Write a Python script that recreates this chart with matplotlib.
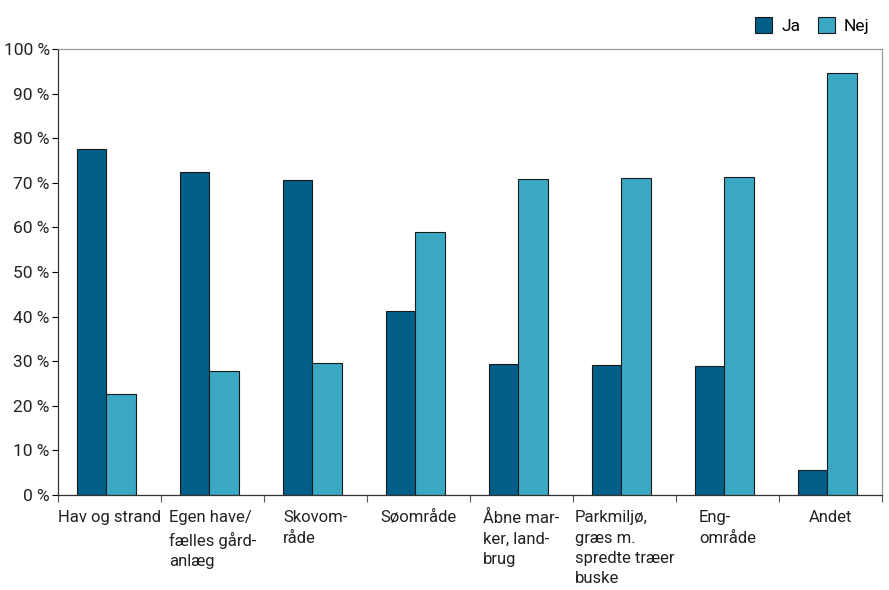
import matplotlib
matplotlib.use("Agg")
import matplotlib.pyplot as plt
import numpy as np
from matplotlib import font_manager

categories = ["Hav og strand", "Egen have/\nfælles gård-\nanlæg", "Skovom-\nråde", "Søområde",
              "Åbne mar-\nker, land-\nbrug", "Parkmiljø,\ngræs m.\nspredte træer\nbuske",
              "Eng-\nområde", "Andet"]
ja = [77.6, 72.4, 70.6, 41.2, 29.3, 29.1, 28.9, 5.6]
nej = [22.6, 27.7, 29.5, 58.9, 70.9, 71.1, 71.2, 94.6]
yticks = [0, 10, 20, 30, 40, 50, 60, 70, 80, 90, 100]
ytick_labels = [f"{v} %" for v in yticks]

names = {f.name for f in font_manager.fontManager.ttflist}
fam = ["Liberation Sans Narrow", "DejaVu Sans"] if "Liberation Sans Narrow" in names else ["Roboto", "DejaVu Sans"]
plt.rcParams["font.family"] = fam

ja_col = "#005e89"
nej_col = "#3aa8c3"

fig = plt.figure(figsize=(8.89, 5.90), dpi=100)
ax = fig.add_axes([58/889, 1-495/590, (882-58)/889, (495-49)/590])

x = np.arange(len(categories))
w = 0.29
ax.bar(x - w/2 - 0.03, ja, width=w, color=ja_col, edgecolor="#1a1a1a", linewidth=0.8, label="Ja")
ax.bar(x + w/2 - 0.03, nej, width=w, color=nej_col, edgecolor="#1a1a1a", linewidth=0.8, label="Nej")

ax.set_xlim(-0.5, len(categories) - 0.5)
ax.set_ylim(0, 100)
ax.set_yticks(yticks)
ax.set_yticklabels(ytick_labels, fontsize=12.5, color="#222222")
ax.tick_params(axis="y", length=4, width=0.8, pad=2)

ax.set_xticks(np.arange(len(categories) + 1) - 0.5)
ax.set_xticklabels([])
ax.tick_params(axis="x", length=5, width=0.8, color="#555555")
for i, lab in enumerate(categories):
    ax.text(i, -3.4, lab, ha="center", va="top", multialignment="left",
            fontsize=12, color="#222222", linespacing=1.45, transform=ax.transData)

ax.spines["left"].set_color("#333333")
ax.spines["bottom"].set_color("#333333")
ax.spines["top"].set_color("#999999")
ax.spines["right"].set_color("#999999")
for s in ax.spines.values():
    s.set_linewidth(0.9)

leg = fig.legend(loc="upper right", bbox_to_anchor=(878/889, 1-8/590), ncol=2, frameon=False,
                 fontsize=12.5, handlelength=1.0, handleheight=1.1, handletextpad=0.5,
                 columnspacing=1.0, borderpad=0)

fig.savefig("out.png", dpi=100)
